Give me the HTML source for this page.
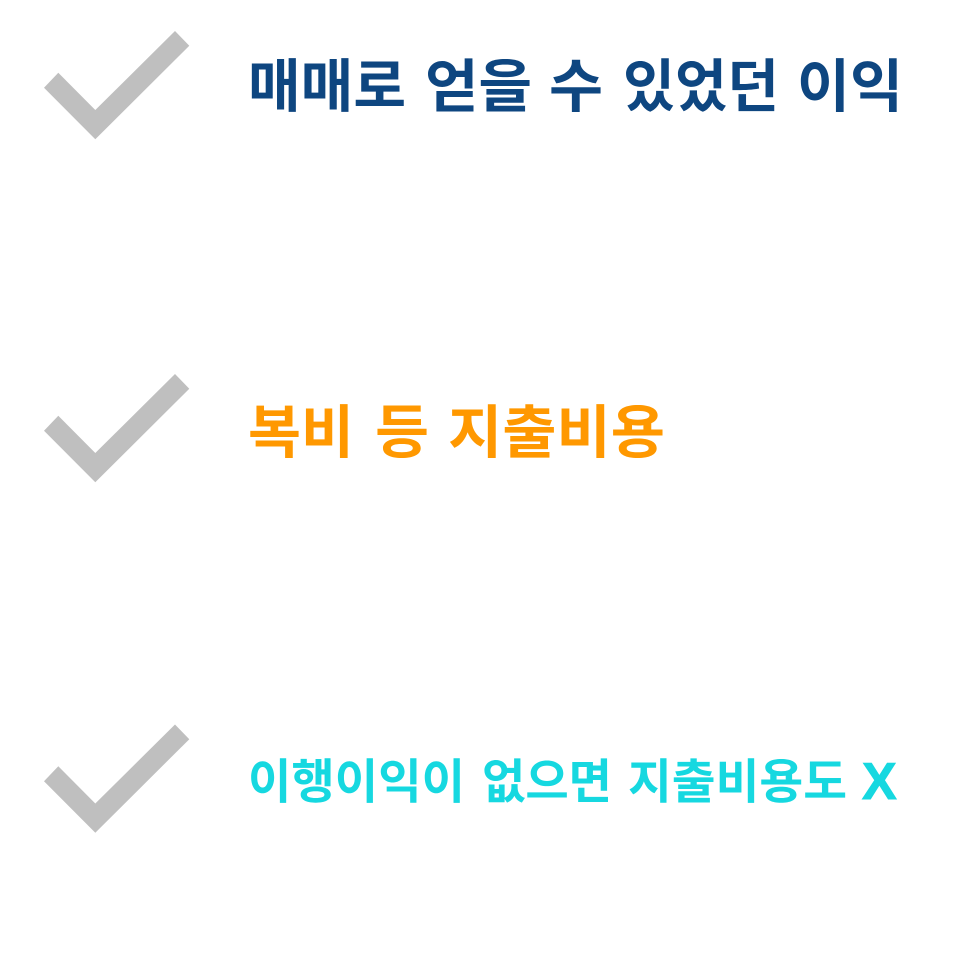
<!DOCTYPE html>
<html lang="ko">
<head>
<meta charset="utf-8">
<style>
html,body{margin:0;padding:0;background:#fff;width:966px;height:966px;overflow:hidden}
svg{display:block}
text{font-family:"Liberation Sans","Noto Sans CJK KR",sans-serif;font-weight:700}
</style>
</head>
<body>
<svg width="966" height="966" viewBox="0 0 966 966" xmlns="http://www.w3.org/2000/svg">
<rect width="966" height="966" fill="#fff"/>
<polygon points="175,31 189.3,45.7 95.3,139.3 44,87.7 58.3,72.7 95.3,110" fill="#bfbfbf"/>
<polygon points="175,374 189.3,388.7 95.3,482.3 44,430.7 58.3,415.7 95.3,453" fill="#bfbfbf"/>
<polygon points="175,724.5 189.3,739.2 95.3,832.8 44,781.2 58.3,766.2 95.3,803.5" fill="#bfbfbf"/>
<g font-size="57.5" fill="#0e4680">
<text x="248" y="106.5" textLength="158" lengthAdjust="spacingAndGlyphs">매매로</text>
<text x="425" y="106.5" textLength="107" lengthAdjust="spacingAndGlyphs">얻을</text>
<text x="549" y="106.5" textLength="54" lengthAdjust="spacingAndGlyphs">수</text>
<text x="623" y="106.5" textLength="156" lengthAdjust="spacingAndGlyphs">있었던</text>
<text x="797" y="106.5" textLength="106" lengthAdjust="spacingAndGlyphs">이익</text>
</g>
<g font-size="57.5" fill="#ff9800">
<text x="248" y="452.5" textLength="106" lengthAdjust="spacingAndGlyphs">복비</text>
<text x="375" y="452.5" textLength="54" lengthAdjust="spacingAndGlyphs">등</text>
<text x="448" y="452.5" textLength="217" lengthAdjust="spacingAndGlyphs">지출비용</text>
</g>
<g font-size="47.5" fill="#16d8e0">
<text x="248" y="798.5" textLength="217" lengthAdjust="spacingAndGlyphs">이행이익이</text>
<text x="482" y="798.5" textLength="130" lengthAdjust="spacingAndGlyphs">없으면</text>
<text x="628" y="798.5" textLength="219" lengthAdjust="spacingAndGlyphs">지출비용도</text>
<text x="862" y="799" font-size="52" stroke="#16d8e0" stroke-width="1">X</text>
</g>
</svg>
</body>
</html>
